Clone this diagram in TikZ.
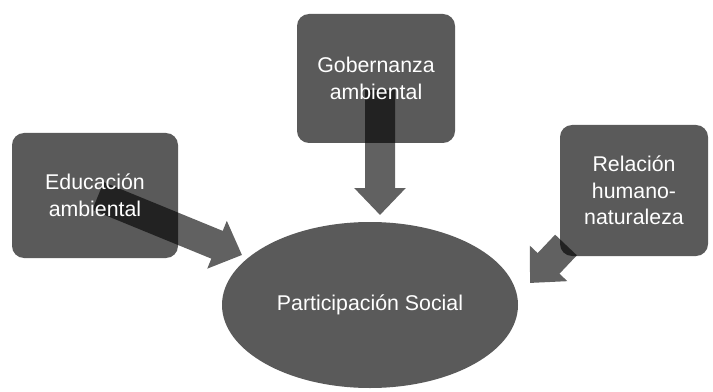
\documentclass[tikz,border=0pt]{standalone}
\usepackage{fontspec}
\setmainfont{Liberation Sans}
\usetikzlibrary{arrows.meta,shapes.geometric}
\definecolor{boxgray}{HTML}{5A5A5A}
\begin{document}
\begin{tikzpicture}[x=0.75pt,y=-0.75pt,
  box/.style={fill=boxgray,rounded corners=9pt,inner sep=0pt},
  lbl/.style={text=white,align=center,font=\fontsize{16}{20}\selectfont},
  bigarrow/.style={line width=22.5pt,-{Triangle[width=37.5pt,length=20.25pt]}}]
\useasboundingbox (0,0) rectangle (713,392);
\node[box,minimum width=124.5pt,minimum height=93.75pt] (edu) at (95,195.5) {};
\node[box,minimum width=118.5pt,minimum height=96.75pt] (gob) at (376,78.5) {};
\node[box,minimum width=111pt,minimum height=98.25pt] (rel) at (634,190.5) {};
\node[ellipse,fill=boxgray,inner sep=0pt,minimum width=222pt,minimum height=124.5pt] (ps) at (370,305) {};
% arrow ends
\coordinate (srcE) at (98,196);
\coordinate (tipE) at (242,255);
\coordinate (srcG) at (380,90);
\coordinate (tipG) at (380,215);
\coordinate (srcR) at (566,245);
\coordinate (tipR) at (530,283);
\begin{scope}[transparency group,opacity=0.62]
\draw[bigarrow] (srcE) -- (tipE);
\end{scope}
\begin{scope}[transparency group,opacity=0.62]
\draw[bigarrow] (srcG) -- (tipG);
\end{scope}
\begin{scope}[transparency group,opacity=0.62]
\draw[bigarrow] (srcR) -- (tipR);
\end{scope}
\node[lbl] at (edu) {Educación\\ambiental};
\node[lbl] at (gob) {Gobernanza\\ambiental};
\node[lbl] at (rel) {Relación\\humano-\\naturaleza};
\node[lbl] at (ps) {Participación Social};
\end{tikzpicture}
\end{document}
